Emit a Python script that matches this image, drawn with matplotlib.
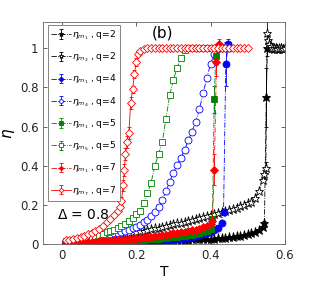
import matplotlib
matplotlib.use("Agg")
import matplotlib.pyplot as plt

# temperature grid shared by the smooth parts of the curves (0.01 ... 0.54)
T_grid = [0.01, 0.02, 0.03, 0.04, 0.05, 0.06, 0.07, 0.08, 0.09, 0.10,
          0.11, 0.12, 0.13, 0.14, 0.15, 0.16, 0.17, 0.18, 0.19, 0.20,
          0.21, 0.22, 0.23, 0.24, 0.25, 0.26, 0.27, 0.28, 0.29, 0.30,
          0.31, 0.32, 0.33, 0.34, 0.35, 0.36, 0.37, 0.38, 0.39, 0.40,
          0.41, 0.42, 0.43, 0.44, 0.45, 0.46, 0.47, 0.48, 0.49, 0.50,
          0.51, 0.52, 0.53, 0.54]

# q=2, eta_m1 (filled stars)
eta_m1_q2 = [.001, .002, .003, .003, .004, .005, .006, .006, .007, .008,
             .009, .009, .010, .011, .012, .012, .013, .014, .014, .015,
             .016, .016, .017, .018, .018, .019, .020, .020, .021, .021,
             .022, .023, .023, .024, .025, .025, .026, .027, .027, .028,
             .029, .030, .032, .033, .035, .038, .041, .044, .047, .052,
             .058, .064, .074, .090]
tail_T_m1_q2 = [0.545, 0.55, 0.553, 0.556, 0.56, 0.565, 0.57, 0.575, 0.58, 0.585, 0.59, 0.595, 0.6]
tail_eta_m1_q2 = [0.107, 0.75, 1.0, 1.02, 1.0, 1.0, 0.995, 1.0, 0.995, 0.995, 1.0, 0.995, 1.0]
tail_err_m1_q2 = [0.01, 0.15, 0.04, 0.02, 0.01, 0.01, 0.01, 0.01, 0.01, 0.01, 0.01, 0.01, 0.01]

# q=2, eta_m2 (open stars)
eta_m2_q2 = [.003, .006, .009, .012, .015, .018, .021, .025, .028, .032,
             .036, .040, .043, .047, .050, .053, .056, .059, .061, .063,
             .066, .069, .073, .077, .081, .085, .090, .094, .098, .102,
             .106, .110, .115, .119, .124, .129, .134, .138, .143, .148,
             .153, .158, .164, .170, .175, .180, .186, .193, .200, .208,
             .217, .235, .270, .330]
tail_T_m2_q2 = [0.545, 0.549, 0.552, 0.555, 0.558, 0.562, 0.566, 0.57, 0.575, 0.58, 0.585, 0.59, 0.595, 0.6]
tail_eta_m2_q2 = [0.36, 0.39, 1.08, 1.04, 1.02, 1.01, 1.0, 1.0, 1.0, 0.995, 1.0, 1.0, 0.995, 1.0]
tail_err_m2_q2 = [0.02, 0.03, 0.08, 0.03, 0.02, 0.01, 0.01, 0.01, 0.01, 0.01, 0.01, 0.01, 0.01, 0.01]

# q=4, eta_m1 (filled circles)
eta_m1_q4 = [.001, .001, .002, .002, .003, .003, .004, .004, .005, .005,
             .006, .006, .007, .008, .008, .009, .010, .010, .011, .012,
             .013, .014, .015, .016, .017, .018, .020, .021, .023, .024,
             .026, .028, .030, .033, .036, .040, .045, .050, .056, .063,
             .071, .083, .108]
tail_T_m1_q4 = [0.435, 0.441, 0.448]
tail_eta_m1_q4 = [0.166, 0.92, 1.02]
tail_err_m1_q4 = [0.01, 0.11, 0.03]

# q=4, eta_m4 (open circles)
eta_m4_q4 = [.012, .015, .018, .021, .024, .027, .030, .033, .036, .040,
             .043, .047, .051, .055, .059, .064, .069, .075, .082, .090,
             .100, .112, .125, .145, .165, .190, .225, .270, .320, .365,
             .405, .440, .480, .530, .575, .625, .690, .770, .850, .920,
             .970, 1.0]
tail_T_m4_q4 = [0.43, 0.44, 0.45]
tail_eta_m4_q4 = [1.0, 1.005, 1.0]
tail_err_m4_q4 = [0.01, 0.01, 0.01]

# q=5, eta_m1 (filled squares)
eta_m1_q5 = [.001, .002, .003, .004, .005, .006, .007, .008, .009, .010,
             .011, .012, .013, .014, .015, .016, .017, .018, .020, .021,
             .022, .023, .025, .026, .028, .029, .031, .033, .035, .037,
             .039, .041, .043, .046, .049, .052, .056, .061, .068, .080]
tail_T_m1_q5 = [0.405, 0.41, 0.414, 0.42]
tail_eta_m1_q5 = [0.13, 0.74, 0.96, 1.0]
tail_err_m1_q5 = [0.01, 0.07, 0.04, 0.02]

# q=5, eta_m5 (open squares)
eta_m5_q5 = [.015, .018, .021, .024, .027, .031, .035, .039, .044, .049,
             .054, .060, .067, .074, .082, .092, .104, .118, .135, .152,
             .172, .210, .260, .315, .400, .460, .520, .640, .760, .840,
             .900, .950, .990, 1.0, 1.0, 1.0, 1.0, 1.0, 1.0, 1.0,
             1.0]

# q=7, eta_m1 (filled diamonds)
eta_m1_q7 = [.002, .003, .004, .006, .007, .009, .010, .012, .013, .015,
             .016, .018, .019, .021, .022, .024, .026, .027, .029, .031,
             .033, .035, .037, .039, .042, .044, .047, .049, .052, .055,
             .058, .061, .064, .067, .071, .075, .080, .086, .094, .105]
tail_T_m1_q7 = [0.405, 0.41, 0.416, 0.423]
tail_eta_m1_q7 = [0.12, 0.38, 0.93, 1.02]
tail_err_m1_q7 = [0.01, 0.08, 0.07, 0.03]

# q=7, eta_m7 (open diamonds), finer sampling around the jump
T_m7_q7 = [0.01, 0.02, 0.03, 0.04, 0.05, 0.06, 0.07, 0.08, 0.09, 0.10,
           0.11, 0.12, 0.13, 0.14, 0.15,
           0.155, 0.16, 0.165, 0.168, 0.171, 0.175, 0.18, 0.185, 0.19, 0.195,
           0.20, 0.205, 0.21,
           0.22, 0.23, 0.24, 0.25, 0.26, 0.27, 0.28, 0.29, 0.30, 0.31,
           0.32, 0.33, 0.34, 0.35, 0.36, 0.37, 0.38, 0.39, 0.40, 0.41,
           0.42, 0.43, 0.44, 0.45, 0.46, 0.47, 0.48, 0.49, 0.50]
eta_m7_q7 = [.020, .024, .028, .033, .038, .044, .050, .058, .068, .080,
             .095, .112, .130, .148, .168,
             .19, .22, .30, .38, .46, .52, .566, .72, .79, .87,
             .93, .97, .985,
             .995, 1.0, 1.0, 1.0, 1.0, 1.0, 1.0, 1.0, 1.0, 1.0,
             1.0, 1.0, 1.0, 1.0, 1.0, 1.0, 1.0, 1.0, 1.0, 1.0,
             1.0, 1.0, 1.0, 1.0, 1.0, 1.0, 1.0, 1.0, 1.0]
err_m7_q7 = [0.0] * 15 + [0.01, 0.02, 0.03, 0.03, 0.03, 0.03, 0.03, 0.03, 0.02, 0.02,
                          0.02, 0.01, 0.01] + [0.0] * 29

black = "k"
blue = "#0000ff"
green = "#008000"
red = "#ff0000"

series = [
    (T_grid + tail_T_m1_q2, eta_m1_q2 + tail_eta_m1_q2, [0] * 54 + tail_err_m1_q2,
     black, "*", True, "-.", r"$\eta_{m_1}$ , q=2"),
    (T_grid + tail_T_m2_q2, eta_m2_q2 + tail_eta_m2_q2, [0] * 54 + tail_err_m2_q2,
     black, "*", False, "-.", r"$\eta_{m_2}$ , q=2"),
    (T_grid[:43] + tail_T_m1_q4, eta_m1_q4 + tail_eta_m1_q4, [0] * 43 + tail_err_m1_q4,
     blue, "o", True, "-.", r"$\eta_{m_1}$ , q=4"),
    (T_grid[:42] + tail_T_m4_q4, eta_m4_q4 + tail_eta_m4_q4, [0] * 42 + tail_err_m4_q4,
     blue, "o", False, "-.", r"$\eta_{m_4}$ , q=4"),
    (T_grid[:40] + tail_T_m1_q5, eta_m1_q5 + tail_eta_m1_q5, [0] * 40 + tail_err_m1_q5,
     green, "s", True, "-.", r"$\eta_{m_1}$ , q=5"),
    (T_grid[:41], eta_m5_q5, [0] * 41,
     green, "s", False, "-.", r"$\eta_{m_5}$ , q=5"),
    (T_grid[:40] + tail_T_m1_q7, eta_m1_q7 + tail_eta_m1_q7, [0] * 40 + tail_err_m1_q7,
     red, "D", True, "-.", r"$\eta_{m_1}$ , q=7"),
    (T_m7_q7, eta_m7_q7, err_m7_q7,
     red, "D", False, "-", r"$\eta_{m_7}$ , q=7"),
]

sizes = {"*": 6.5, "o": 5, "s": 4.5, "D": 4.2}

fig = plt.figure(figsize=(3.12, 2.85), dpi=100)
ax = fig.add_axes([0.139, 0.143, 0.774, 0.781])

for T, eta, err, col, mk, filled, ls, lab in series:
    ax.errorbar(T, eta, yerr=err, color=col, ecolor=col, ls=ls, lw=0.6,
                marker=mk, ms=sizes[mk], mew=0.6, mfc=col if filled else "white",
                mec=col, capsize=1.2, elinewidth=0.6, capthick=0.6, label=lab)

ax.set_xlim(-0.05, 0.6)
ax.set_ylim(0, 1.136)
ax.set_xticks([0, 0.2, 0.4, 0.6])
ax.set_xticklabels(["0", "0.2", "0.4", "0.6"])
ax.set_yticks([0, 0.2, 0.4, 0.6, 0.8, 1.0])
ax.set_yticklabels(["0", "0.2", "0.4", "0.6", "0.8", "1"])
ax.tick_params(direction="in", top=True, right=True, labelsize=8.5,
               length=3, width=0.5, colors="0.15")
for sp in ax.spines.values():
    sp.set_linewidth(0.6)
    sp.set_color("0.4")

ax.set_xlabel("T", fontsize=10, labelpad=2)
ax.set_ylabel(r"$\eta$", fontsize=11, labelpad=2)

ax.text(0.495, 0.95, "(b)", transform=ax.transAxes, fontsize=11,
        ha="center", va="center")
ax.text(0.057, 0.13, r"$\Delta$ = 0.8", transform=ax.transAxes, fontsize=10,
        ha="left", va="center")

leg = ax.legend(loc="upper left", bbox_to_anchor=(0.02, 0.985), fontsize=6.6,
                frameon=True, fancybox=False, edgecolor="0.45", framealpha=1,
                handlelength=2.1, handletextpad=0.15, labelspacing=0.95,
                borderpad=0.35, borderaxespad=0, markerscale=0.55)
leg.get_frame().set_linewidth(0.6)

fig.savefig("out.png", dpi=100)
